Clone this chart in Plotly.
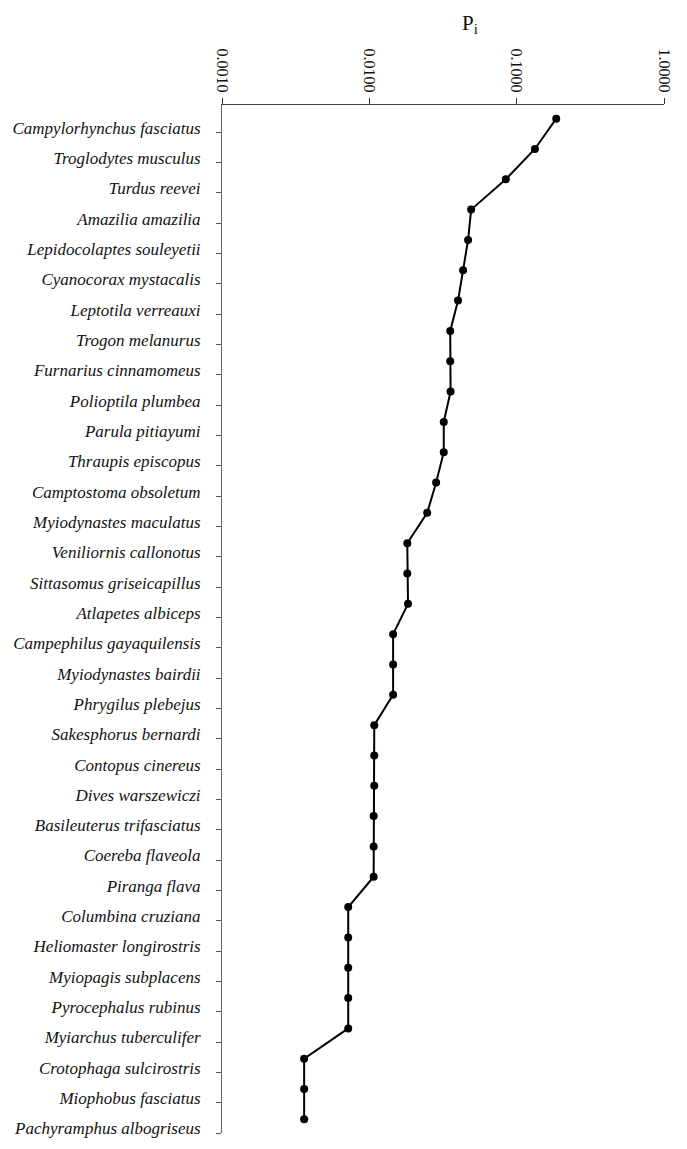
import plotly.graph_objects as go

species = [
    "Campylorhynchus fasciatus", "Troglodytes musculus", "Turdus reevei",
    "Amazilia amazilia", "Lepidocolaptes souleyetii", "Cyanocorax mystacalis",
    "Leptotila verreauxi", "Trogon melanurus", "Furnarius cinnamomeus",
    "Polioptila plumbea", "Parula pitiayumi", "Thraupis episcopus",
    "Camptostoma obsoletum", "Myiodynastes maculatus", "Veniliornis callonotus",
    "Sittasomus griseicapillus", "Atlapetes albiceps", "Campephilus gayaquilensis",
    "Myiodynastes bairdii", "Phrygilus plebejus", "Sakesphorus bernardi",
    "Contopus cinereus", "Dives warszewiczi", "Basileuterus trifasciatus",
    "Coereba flaveola", "Piranga flava", "Columbina cruziana",
    "Heliomaster longirostris", "Myiopagis subplacens", "Pyrocephalus rubinus",
    "Myiarchus tuberculifer", "Crotophaga sulcirostris", "Miophobus fasciatus",
    "Pachyramphus albogriseus",
]

pi_values = [
    0.1856, 0.1330, 0.0844, 0.0491, 0.0468, 0.0433, 0.0400, 0.0354, 0.0354,
    0.0356, 0.0320, 0.0320, 0.0284, 0.0247, 0.0181, 0.0181, 0.0183, 0.0145,
    0.0145, 0.0145, 0.0108, 0.0108, 0.0108, 0.0107, 0.0107, 0.0107, 0.00719,
    0.00719, 0.00719, 0.00719, 0.00719, 0.00361, 0.00361, 0.00361,
]

x_tick_vals = [0.001, 0.01, 0.1, 1.0]
x_tick_text = ["0.0010", "0.0100", "0.1000", "1.0000"]

n = len(species)
idx = list(range(n))
label_pos = [i + 0.3 for i in idx]
tick_pos = [i + 0.45 for i in idx]

fig = go.Figure()
fig.add_trace(go.Scatter(
    x=pi_values, y=idx, mode="lines+markers",
    line=dict(color="black", width=2),
    marker=dict(color="black", size=8),
    showlegend=False, hoverinfo="skip",
))

serif = "Liberation Serif"

fig.update_layout(
    width=671, height=1133,
    margin=dict(l=214, r=15, t=97, b=3),
    paper_bgcolor="white", plot_bgcolor="white",
    xaxis=dict(
        type="log", range=[-3, 0], side="top",
        tickvals=x_tick_vals, ticktext=x_tick_text, tickangle=90,
        ticks="outside", ticklen=6, tickcolor="#333", tickwidth=1,
        showline=True, linecolor="#444", linewidth=1,
        showgrid=False, zeroline=False,
        ticklabeloverflow="allow",
        tickfont=dict(family=serif, size=16, color="#111"),
    ),
    yaxis=dict(
        range=[n - 1 + 0.45, -0.45],
        tickvals=label_pos, ticktext=species,
        ticks="", ticklen=0,
        minor=dict(tickvals=tick_pos, ticks="outside", ticklen=5,
                   tickcolor="#555", tickwidth=1, showgrid=False),
        showline=True, linecolor="#666", linewidth=1,
        showgrid=False, zeroline=False,
        ticklabeloverflow="allow",
        ticklabelstandoff=17,
        tickfont=dict(family=serif, size=17, color="#111", style="italic"),
    ),
    annotations=[dict(
        text="P<sub>i</sub>", x=0.561, y=1.079, xref="paper", yref="paper",
        xanchor="center", yanchor="middle", showarrow=False,
        font=dict(family=serif, size=21, color="#111"),
    )],
)

fig.write_html("out.html")
